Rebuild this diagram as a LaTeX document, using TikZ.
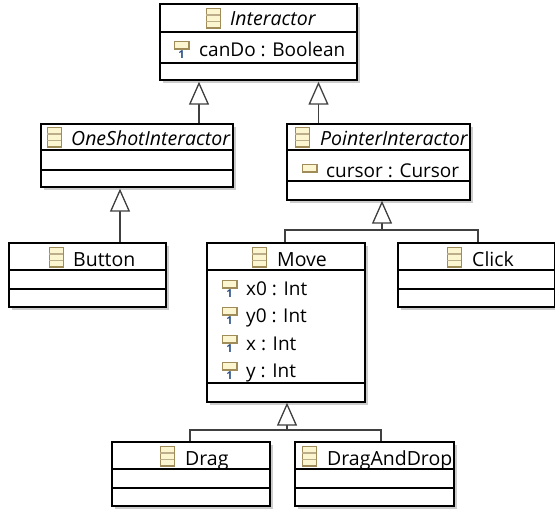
\documentclass[tikz,border=0pt]{standalone}
\usepackage{fontspec}
\setmainfont{Open Sans}
\usetikzlibrary{arrows.meta,shadows}
\definecolor{linegray}{HTML}{404040}
\definecolor{iconedge}{HTML}{A08C58}
\definecolor{iconfill}{HTML}{FBF6CF}
\definecolor{iconblue}{HTML}{2A4F86}
\tikzset{
  classbox/.style={draw=black,fill=white,line width=1.4pt,inner sep=0pt,
    drop shadow={shadow xshift=3pt,shadow yshift=-3pt,fill=black!20,opacity=1}},
  classname/.style={inner sep=0pt,anchor=base west,font=\fontsize{19.5}{22}\selectfont},
  attrname/.style={inner sep=0pt,anchor=base west,font=\fontsize{19}{22}\selectfont},
  inherit/.style={draw=linegray,line width=1.3pt,-{Triangle[open,fill=white,length=23pt,width=20pt]}},
  branch/.style={draw=linegray,line width=1.3pt}
}
% left, top, right, bottom of a box, then its name
\newcommand{\classrect}[5]{
  \node [classbox,minimum width=#3pt-#1pt,minimum height=#4pt-#2pt] (#5) at ({(#1+#3)/2},{(#2+#4)/2}) {};
}
% separator lines of a box
\newcommand{\classsep}[3]{
  \draw [black,line width=1.3pt] (#1,#3) -- (#2+1,#3);
}
% three band class icon, top left corner given
\newcommand{\classicon}[2]{
  \draw [iconedge,fill=iconfill,line width=1.5pt] (#1+.5,#2+.5) rectangle (#1+14.5,#2+20);
  \draw [iconedge!70,line width=1.1pt] (#1,#2+7) -- (#1+14,#2+7);
  \draw [iconedge!70,line width=1.1pt] (#1,#2+13.5) -- (#1+14,#2+13.5);
}
% attribute icon, top left corner given
\newcommand{\attricon}[2]{
  \draw [iconedge,fill=iconfill,line width=1.5pt] (#1+.5,#2+.5) rectangle (#1+15,#2+8);
}
\newcommand{\attrone}[2]{
  \node [inner sep=0pt,text=iconblue,font=\bfseries\fontsize{11}{11}\selectfont] at (#1+7.5,#2+13.5) {1};
}
\begin{document}
\begin{tikzpicture}[x=1pt,y=-1pt]
  \useasboundingbox (0,0) rectangle (555,511);
  \fill [white] (0,0) rectangle (555,511);

  % Interactor
  \classrect{160}{4}{357}{80}{interactor}
  \classsep{160}{357}{32}
  \classsep{160}{357}{63}
  \classicon{206}{8}
  \node [classname] (interactorname) at (230,26) {\itshape Interactor};
  \attricon{174}{41}
  \attrone{174}{41}
  \node [attrname] (cando) at (199,57) {canDo : Boolean};

  % OneShotInteractor
  \classrect{41}{124}{233}{187}{oneshot}
  \classsep{41}{233}{150}
  \classsep{41}{233}{170}
  \classicon{47}{127}
  \node [classname] (oneshotname) at (71,146) {\itshape OneShotInteractor};

  % Button
  \classrect{9}{243}{166}{307}{button}
  \classsep{9}{166}{270}
  \classsep{9}{166}{289}
  \classicon{49}{247}
  \node [classname] (buttonname) at (73,266) {Button};

  % PointerInteractor
  \classrect{287}{124}{470}{200}{pointer}
  \classsep{287}{470}{150}
  \classsep{287}{470}{181}
  \classicon{295}{127}
  \node [classname] (pointername) at (320,146) {\itshape PointerInteractor};
  \attricon{302}{164}
  \node [attrname] (cursor) at (326,177) {cursor : Cursor};

  % Move
  \classrect{207}{243}{365}{402}{move}
  \classsep{207}{365}{270}
  \classsep{207}{365}{383}
  \classicon{252}{247}
  \node [classname] (movename) at (277,266) {Move};
  \foreach \attr/\ypos in {x0 : Int/295,y0 : Int/322,x : Int/350,y : Int/377}{
    \attricon{222}{\ypos-15}
    \attrone{222}{\ypos-15}
    \node [attrname] at (246,\ypos) {\attr};
  }

  % Click
  \classrect{398}{243}{555}{307}{click}
  \classsep{398}{555}{270}
  \classsep{398}{555}{289}
  \classicon{447}{247}
  \node [classname] (clickname) at (472,266) {Click};

  % Drag
  \classrect{112}{442}{270}{506}{drag}
  \classsep{112}{270}{469}
  \classsep{112}{270}{488}
  \classicon{160}{446}
  \node [classname] (dragname) at (185,465) {Drag};

  % DragAndDrop
  \classrect{295}{442}{454}{506}{dragdrop}
  \classsep{295}{454}{469}
  \classsep{295}{454}{488}
  \classicon{302}{446}
  \node [classname] (dragdropname) at (327,465) {DragAndDrop};

  % generalisations
  \draw [inherit] ([xshift=62pt]oneshot.north) -- ([xshift=-59.5pt,yshift=-1pt]interactor.south);
  \draw [inherit] ([xshift=-60pt]pointer.north) -- ([xshift=60pt,yshift=-1pt]interactor.south);
  \draw [inherit] ([xshift=32.5pt]button.north) -- ([xshift=-17pt,yshift=-1pt]oneshot.south);
  \coordinate (pointerbar) at (382,230);
  \draw [branch] ([xshift=-1pt]move.north) |- (pointerbar) -| ([xshift=1.5pt]click.north);
  \draw [inherit] (pointerbar) -- ([xshift=3.5pt]pointer.south);
  \coordinate (movebar) at (287,430);
  \draw [branch] ([xshift=-1pt]drag.north) |- (movebar) -| ([xshift=6.5pt]dragdrop.north);
  \draw [inherit] (movebar) -- ([xshift=1pt]move.south);
\end{tikzpicture}
\end{document}
